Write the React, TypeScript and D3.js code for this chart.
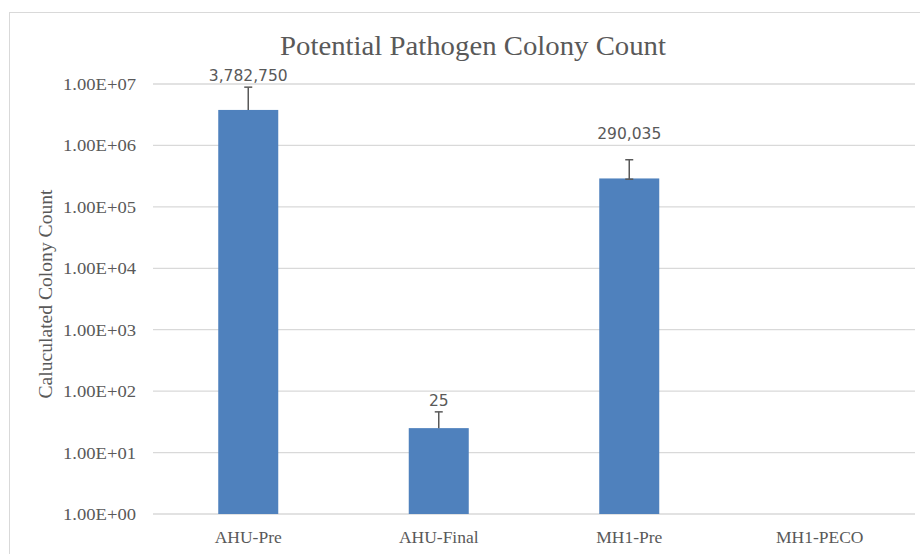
import { FC } from "react";
import * as d3 from "d3";

const categories = ["AHU-Pre", "AHU-Final", "MH1-Pre", "MH1-PECO"];
const counts = [3782750, 25, 290035, 0];
const errPlus = [5100000, 21, 295000, 0];
const errMinus = [0, 0, 8000, 0];
const tickValues = [1, 10, 100, 1000, 10000, 100000, 1000000, 10000000];
const tickLabels = ["1.00E+00", "1.00E+01", "1.00E+02", "1.00E+03", "1.00E+04", "1.00E+05", "1.00E+06", "1.00E+07"];

const W = 920,
  H = 554,
  left = 153,
  right = 915,
  top = 84,
  bottom = 514,
  textColor = "#595959",
  gridColor = "#d9d9d9",
  barColor = "#4f81bd",
  font = "'Liberation Serif', serif";

const App: FC = () => {
  const x = d3
    .scaleBand<string>()
    .domain(categories)
    .range([left, right])
    .paddingInner(0.685)
    .paddingOuter(0.3425);
  const y = d3.scaleLog().domain([1, 1e7]).range([bottom, top]);

  return (
    <svg width={W} height={H} style={{ position: "absolute", left: 0, top: 0, background: "#fff" }}>
      <rect x={9.5} y={12.5} width={W} height={H} fill="#fff" stroke={gridColor} />
      <text
        x={473}
        y={55}
        textAnchor="middle"
        fontFamily={font}
        fontSize={28}
        fill={textColor}
        textLength={386}
        lengthAdjust="spacingAndGlyphs"
      >
        Potential Pathogen Colony Count
      </text>
      {tickValues.map((t, i) => (
        <g key={t}>
          <line x1={left} x2={right} y1={y(t)} y2={y(t)} stroke={gridColor} strokeWidth={1.3} />
          <text
            x={63}
            y={y(t) + 6}
            fontFamily={font}
            fontSize={17.5}
            fill={textColor}
            textLength={73}
            lengthAdjust="spacingAndGlyphs"
          >
            {tickLabels[i]}
          </text>
        </g>
      ))}
      <text
        transform={`translate(52,294) rotate(-90)`}
        textAnchor="middle"
        fontFamily={font}
        fontSize={19}
        fill={textColor}
        textLength={209}
        lengthAdjust="spacingAndGlyphs"
      >
        Caluculated Colony Count
      </text>
      {categories.map((c, i) => {
        const bx = x(c)!;
        const cx = bx + x.bandwidth() / 2;
        const v = counts[i];
        const catLabel = (
          <text x={cx} y={543} textAnchor="middle" fontFamily={font} fontSize={17.5} fill={textColor}>
            {c}
          </text>
        );
        if (!v) return <g key={c}>{catLabel}</g>;
        const yTop = y(v + errPlus[i]);
        const yLow = y(v - errMinus[i]);
        const labelY = i === 2 ? yTop - 21 : yTop - 6;
        return (
          <g key={c}>
            <rect x={bx} y={y(v)} width={x.bandwidth()} height={bottom - y(v)} fill={barColor} />
            <line x1={cx} x2={cx} y1={yLow} y2={yTop} stroke="#595959" strokeWidth={1.5} />
            <line x1={cx - 4} x2={cx + 4} y1={yTop} y2={yTop} stroke="#595959" strokeWidth={1.5} />
            {errMinus[i] > 0 && (
              <line x1={cx - 4} x2={cx + 4} y1={yLow} y2={yLow} stroke="#595959" strokeWidth={1.5} />
            )}
            <text x={cx} y={labelY} textAnchor="middle" fontFamily="'DejaVu Sans', sans-serif" fontSize={15.5} fill={textColor}>
              {d3.format(",")(v)}
            </text>
            {catLabel}
          </g>
        );
      })}
    </svg>
  );
};

export default App;
